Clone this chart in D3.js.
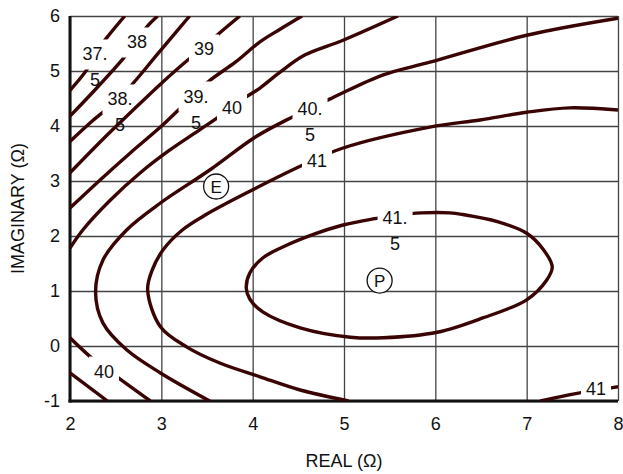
<!DOCTYPE html>
<html>
<head>
<meta charset="utf-8">
<script src="https://cdn.jsdelivr.net/npm/d3@7"></script>
<style>
body { margin: 0; background: #fff; }
text { font-family: "Liberation Sans", Arial, sans-serif; fill: #111; }
</style>
</head>
<body>
<div id="chart"></div>
<script>
var xTicks = [2, 3, 4, 5, 6, 7, 8];
var yTicks = [-1, 0, 1, 2, 3, 4, 5, 6];

// contour lines, [real, imaginary]
var c375 = [[2.00, 4.65], [2.19, 5.04], [2.27, 5.31], [2.41, 5.62], [2.60, 6.00]];
var c38 = [[2.00, 4.18], [2.27, 4.65], [2.58, 5.22], [2.73, 5.53], [2.84, 5.80], [2.96, 6.00]];
var c385 = [[2.00, 3.72], [2.25, 4.10], [2.55, 4.52], [2.99, 5.37], [3.31, 6.00]];
var c39 = [[2.00, 3.15], [2.36, 3.76], [2.66, 4.24], [2.99, 4.76], [3.29, 5.20], [3.46, 5.42], [3.61, 5.65], [3.86, 6.00]];
var c395a = [[2.00, 2.51], [2.33, 3.02], [2.66, 3.51], [2.99, 3.98], [3.23, 4.36], [3.51, 4.80], [3.81, 5.16], [4.08, 5.53], [4.30, 5.76], [4.54, 6.00]];
var c395b = [[2.00, -0.49], [2.41, -1.00]];
var c40a = [[2.00, 1.78], [2.14, 2.11], [2.44, 2.65], [2.77, 3.15], [3.09, 3.56], [3.42, 3.93], [3.64, 4.18], [3.93, 4.53], [4.08, 4.69], [4.30, 4.98], [4.57, 5.29], [4.99, 5.56], [5.59, 6.00]];
var c40b = [[2.00, 0.15], [2.24, -0.22], [2.53, -0.58], [2.88, -1.00]];
var c405 = [[8.00, 5.96], [7.00, 5.65], [5.94, 5.16], [5.43, 4.93], [4.87, 4.51], [4.43, 4.16], [4.03, 3.80], [3.53, 3.20], [2.99, 2.60], [2.62, 2.11], [2.36, 1.56], [2.28, 0.98], [2.36, 0.42], [2.62, -0.07], [2.99, -0.49], [3.53, -1.00]];
var c41a = [[8.00, 4.29], [7.47, 4.33], [7.00, 4.25], [6.49, 4.11], [5.94, 3.98], [4.99, 3.60], [4.55, 3.29], [4.00, 2.84], [3.50, 2.40], [3.23, 2.11], [3.02, 1.75], [2.90, 1.38], [2.85, 1.02], [2.99, 0.35], [3.28, -0.02], [3.64, -0.31], [4.08, -0.56], [4.52, -0.80], [5.05, -1.00]];
var c41b = [[7.15, -1.00], [7.62, -0.84], [7.89, -0.77], [8.00, -0.74]];
var c415 = [[3.93, 1.05], [3.97, 1.33], [4.11, 1.60], [4.33, 1.80], [4.65, 2.02], [4.99, 2.20], [5.32, 2.31], [5.59, 2.38], [5.85, 2.42], [6.16, 2.42], [6.30, 2.39], [6.68, 2.26], [7.00, 2.05], [7.18, 1.76], [7.28, 1.44], [7.22, 1.20], [7.00, 0.84], [6.52, 0.51], [6.02, 0.25], [5.43, 0.15], [5.07, 0.16], [4.52, 0.33], [4.11, 0.62], [3.97, 0.85]];

var levels = [37.5, 38, 38.5, 39, 39.5, 39.5, 40, 40, 40.5, 41, 41, 41.5];
var lines = [c375, c38, c385, c39, c395a, c395b, c40a, c40b, c405, c41a, c41b, c415];

// contour labels: [level, real, imaginary]
var contourLabels = [
  [37.5, 2.274, 5.309], [38, 2.734, 5.527], [38.5, 2.547, 4.491],
  [39, 3.467, 5.40], [39.5, 3.380, 4.545], [40, 3.774, 4.327],
  [40.5, 4.628, 4.309], [41, 4.704, 3.364], [41.5, 5.559, 2.345],
  [40, 2.372, -0.455], [41, 7.759, -0.782]
];

var markers = [['E', 3.60, 2.90], ['P', 5.39, 1.19]];

var width = 623, height = 474;
var margin = { top: 16, right: 5, bottom: 73, left: 70 };
var w = width - margin.left - margin.right;
var h = height - margin.top - margin.bottom;
var fontSize = 18;

var x = d3.scaleLinear().domain([2, 8]).range([0, w]);
var y = d3.scaleLinear().domain([-1, 6]).range([h, 0]);

var svg = d3.select('#chart').append('svg')
  .attr('width', width)
  .attr('height', height);
var defs = svg.append('defs');
defs.append('clipPath').attr('id', 'plot')
  .append('rect').attr('width', w).attr('height', h);

var g = svg.append('g')
  .attr('transform', 'translate(' + margin.left + ',' + margin.top + ')');

// grid
g.append('g')
  .attr('transform', 'translate(0,' + h + ')')
  .call(d3.axisBottom(x).tickValues(xTicks).tickSize(-h).tickFormat(''))
  .call(function (s) { s.select('.domain').remove(); })
  .selectAll('line').attr('stroke', '#444').attr('stroke-width', 1.3);
g.append('g')
  .call(d3.axisLeft(y).tickValues(yTicks).tickSize(-w).tickFormat(''))
  .call(function (s) { s.select('.domain').remove(); })
  .selectAll('line').attr('stroke', '#444').attr('stroke-width', 1.3);

// tick labels
var xAxis = g.append('g')
  .attr('transform', 'translate(0,' + h + ')')
  .call(d3.axisBottom(x).tickValues(xTicks).tickSize(0).tickPadding(16).tickFormat(d3.format('d')));
var yAxis = g.append('g')
  .call(d3.axisLeft(y).tickValues(yTicks).tickSize(0).tickPadding(10).tickFormat(function (d) { return d < 0 ? '-' + (-d) : d; }));
[xAxis, yAxis].forEach(function (a) {
  a.select('.domain').remove();
  a.selectAll('text').attr('font-size', fontSize).attr('fill', '#111')
    .attr('font-family', '"Liberation Sans", Arial, sans-serif');
});

// thick left and bottom axis lines
g.append('line').attr('x1', 0).attr('x2', 0).attr('y1', 0).attr('y2', h + 1.5)
  .attr('stroke', '#111').attr('stroke-width', 3);
g.append('line').attr('x1', -1.5).attr('x2', w).attr('y1', h).attr('y2', h)
  .attr('stroke', '#111').attr('stroke-width', 3);

// contour labels first so their boxes can cut gaps in the lines
var labelG = g.append('g');
var labelBoxes = {};
contourLabels.forEach(function (d) {
  var lv = d[0];
  var half = lv % 1 !== 0;
  var t = labelG.append('text')
    .attr('x', x(d[1])).attr('y', y(d[2])).attr('dy', '0.36em')
    .attr('text-anchor', 'middle').attr('font-size', fontSize)
    .text(half ? Math.floor(lv) + '.' : lv);
  if (half) {
    labelG.append('text')
      .attr('x', x(d[1])).attr('y', y(d[2]) + 26).attr('dy', '0.36em')
      .attr('text-anchor', 'middle').attr('font-size', fontSize)
      .text('5');
  }
  var b = t.node().getBBox();
  (labelBoxes[lv] = labelBoxes[lv] || []).push(b);
});

// one mask per level hiding its own label area
Object.keys(labelBoxes).forEach(function (lv) {
  var m = defs.append('mask').attr('id', 'mask' + String(lv).replace('.', '_'))
    .attr('maskUnits', 'userSpaceOnUse')
    .attr('x', -10).attr('y', -10).attr('width', w + 20).attr('height', h + 20);
  m.append('rect').attr('x', -10).attr('y', -10).attr('width', w + 20).attr('height', h + 20).attr('fill', '#fff');
  labelBoxes[lv].forEach(function (b) {
    m.append('rect')
      .attr('x', b.x - 5).attr('y', b.y - 5)
      .attr('width', b.width + 10).attr('height', b.height + 10)
      .attr('fill', '#000');
  });
});

var line = d3.line()
  .x(function (d) { return x(d[0]); })
  .y(function (d) { return y(d[1]); })
  .curve(d3.curveCatmullRom.alpha(0.5));
var closedLine = d3.line()
  .x(function (d) { return x(d[0]); })
  .y(function (d) { return y(d[1]); })
  .curve(d3.curveCatmullRomClosed.alpha(0.5));

var lineG = g.append('g').attr('clip-path', 'url(#plot)');
lines.forEach(function (pts, i) {
  var lv = levels[i];
  var isClosed = pts === c415;
  var p = lineG.append('path')
    .attr('d', isClosed ? closedLine(pts) : line(pts))
    .attr('fill', 'none')
    .attr('stroke', '#3a0404')
    .attr('stroke-width', 3.4);
  if (labelBoxes[lv]) p.attr('mask', 'url(#mask' + String(lv).replace('.', '_') + ')');
});
labelG.raise();

// E and P markers
var mk = g.selectAll('g.marker')
  .data(markers)
  .enter()
  .append('g')
  .attr('class', 'marker')
  .attr('transform', function (d) { return 'translate(' + x(d[1]) + ',' + y(d[2]) + ')'; });
mk.append('circle').attr('r', 12.5).attr('fill', '#fff').attr('stroke', '#111').attr('stroke-width', 1.3);
mk.append('text').attr('text-anchor', 'middle').attr('dy', '0.36em').attr('font-size', 17)
  .text(function (d) { return d[0]; });

// axis titles
svg.append('text')
  .attr('x', margin.left + x(5)).attr('y', 467)
  .attr('text-anchor', 'middle').attr('font-size', fontSize)
  .text('REAL (Ω)');
svg.append('text')
  .attr('transform', 'translate(24,' + (margin.top + h / 2) + ') rotate(-90)')
  .attr('text-anchor', 'middle').attr('font-size', fontSize)
  .text('IMAGINARY (Ω)');
</script>
</body>
</html>
